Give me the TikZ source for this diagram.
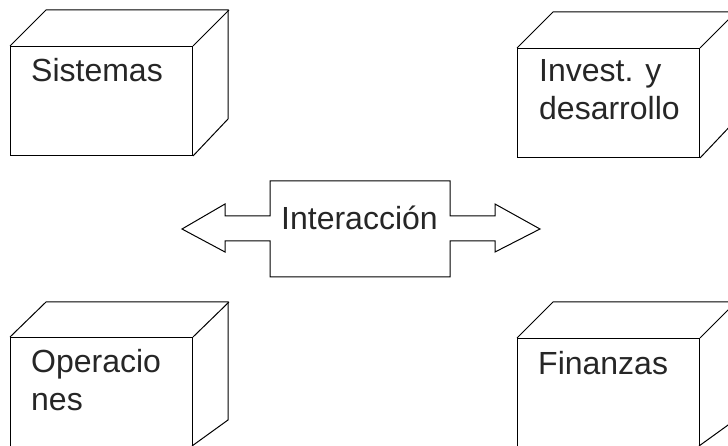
\documentclass[tikz,border=0pt]{standalone}
\usepackage{fontspec}
\setmainfont{Liberation Sans}
\begin{document}
\begin{tikzpicture}[x=1pt,y=-1pt,
  edge/.style={draw=black, line width=1pt, line join=miter},
  face/.style={edge, fill=white, minimum width=182pt, minimum height=109pt, anchor=north west, inner sep=0pt},
  lbl/.style={anchor=base west, inner sep=0pt, align=left, font=\fontsize{32}{38}\selectfont, text=black!85}]
\useasboundingbox (0,0) rectangle (728,446);
\clip (0,0) rectangle (728,446);

% Sistemas
\node[face] (sisF) at (10,46) {};
\draw[edge] (sisF.north west) -- ++(36,-36) -- ++(182,0) -- ++(0,109) -- (sisF.south east);
\draw[edge] (sisF.north east) -- ++(36,-36);
\node[lbl] (sisT) at (31,82) {Sistemas};

% Invest. y desarrollo (two lines; base anchor sits on the last line)
\node[face] (invF) at (517,48) {};
\draw[edge] (invF.north west) -- ++(36,-36) -- ++(182,0) -- ++(0,109) -- (invF.south east);
\draw[edge] (invF.north east) -- ++(36,-36);
\node[lbl] (invT) at (539,120) {Invest. y\\desarrollo};

% Operaciones
\node[face, minimum height=115pt] (opeF) at (10,337) {};
\draw[edge] (opeF.north west) -- ++(36,-35) -- ++(182,0) -- (228,420) -- (192,446);
\draw[edge] (opeF.north east) -- ++(36,-35);
\node[lbl] (opeT) at (31,410) {Operacio\\nes};

% Finanzas
\node[face, minimum height=115pt] (finF) at (517,338) {};
\draw[edge] (finF.north west) -- ++(36,-36) -- ++(182,0) -- (735,420) -- (699,446);
\draw[edge] (finF.north east) -- ++(36,-36);
\node[lbl] (finT) at (538,374) {Finanzas};

% double arrow with the central box
\draw[edge] (225,216) -- (270,216) -- (270,181) -- (450,181) -- (450,216)
  -- (495,216) -- (495,204) -- (540,229) -- (495,252) -- (495,241)
  -- (450,241) -- (450,277) -- (270,277) -- (270,241) -- (225,241)
  -- (225,252) -- (182,229) -- (225,204) -- cycle;
\node[lbl] (intT) at (281,230) {Interacción};
\end{tikzpicture}
\end{document}
